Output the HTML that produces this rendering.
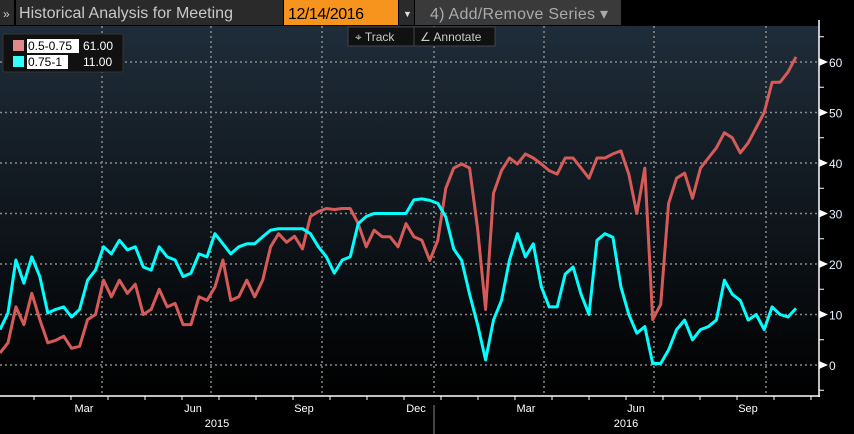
<!DOCTYPE html>
<html><head><meta charset="utf-8"><style>
body{margin:0;width:854px;height:434px;background:#000;overflow:hidden;font-family:"Liberation Sans",sans-serif;}
svg{display:block}
</style></head><body>
<svg width="854" height="434">
<defs><linearGradient id="bg" x1="0" y1="0" x2="0" y2="1"><stop offset="0" stop-color="#1f2d3a"/><stop offset="1" stop-color="#000"/></linearGradient></defs>
<rect x="0" y="26" width="819" height="370" fill="url(#bg)"/>
<g id="grid"></g>
<g id="series"></g>
<g id="axes"></g>
<!-- header -->
<rect x="0" y="0" width="14" height="25" fill="#2a2a2a"/>
<text x="3" y="18" fill="#ccc" font-size="12">»</text>
<rect x="16" y="0" width="267" height="25" fill="#2a2a2a"/>
<text x="19" y="18" fill="#c8c8c8" font-size="16" textLength="214">Historical Analysis for Meeting</text>
<rect x="284" y="0" width="114" height="25" fill="#f7941d"/>
<text x="288" y="19" fill="#000" font-size="16" textLength="76">12/14/2016</text>
<rect x="399" y="0" width="15" height="25" fill="#2a2a2a"/>
<text x="403" y="17" fill="#ddd" font-size="9">▼</text>
<rect x="415" y="0" width="206" height="25" fill="#3a3a3a"/>
<text x="430" y="19" fill="#aaa" font-size="16" textLength="178">4) Add/Remove Series ▾</text>
<!-- track/annotate -->
<rect x="348" y="27" width="147" height="19" fill="#111" stroke="#444"/>
<text x="355" y="41" fill="#ccc" font-size="12">⌖ Track</text>
<line x1="414" y1="27" x2="414" y2="46" stroke="#444"/>
<text x="420" y="41" fill="#ccc" font-size="12">∠ Annotate</text>
<!-- legend -->
<rect x="3" y="34" width="120" height="38" fill="#111" stroke="#333" rx="2"/>
<g>
<rect x="13" y="40" width="11" height="11" fill="#e08a8a"/>
<rect x="27" y="39" width="52" height="14" fill="#fff"/>
<text x="28" y="50" fill="#000" font-size="12">0.5-0.75</text>
<text x="83" y="50" fill="#fff" font-size="12">61.00</text></g>
<g>
<rect x="13" y="56" width="11" height="11" fill="#33ffff"/>
<rect x="27" y="55" width="41" height="14" fill="#fff"/>
<text x="28" y="66" fill="#000" font-size="12">0.75-1</text>
<text x="83" y="66" fill="#fff" font-size="12">11.00</text></g>
</svg>
<script>
const redValues=[2.4,4.4,11.5,8,14.2,9,4.4,4.9,5.7,3.3,3.7,9,10,16.8,13.5,16.8,14.2,16,10,11,15,11.5,12.2,8,8,13.5,12.8,15.4,20.8,12.8,13.5,16.8,13.5,16.8,23.4,26,24.3,25.5,23,29.4,30.4,31,30.8,31,31,28,23.4,26.7,25.4,25.4,23.4,28,25.4,24.7,20.7,24.7,35,39,39.8,39,27,11,34,38.5,41,39.8,41.8,41,39.8,38.5,37.8,41,41,39,37,41,41,41.8,42.4,37.8,30,39,9,12,32,37,38,33,39,41,43,46,45,42,44,47,50,56,56,58,61];
const cyanValues=[7,10.3,20.8,16.2,21.4,17.5,10.3,11,11.5,9.5,11,16.8,18.8,23.4,22,24.7,22.8,23.4,19.4,18.8,23.4,21.4,20.8,17.5,18.2,22,21.4,26,24,22,23.4,24,24,25.4,26.7,27,27,27,27,26,23.4,21.4,18.2,20.8,21.4,28,29.4,30,30,30,30,30,32.7,32.9,32.6,32,29.3,23,20.7,14,8,1,8.9,12.8,20.7,26,21.4,24,15.5,11.5,11.5,18,19.4,14,10,24.7,26,25.3,15.5,10,6.3,7.6,0.3,0.3,3,7,8.9,5,7,7.6,8.9,16.8,14,12.8,8.9,10,7,11.5,10,9.5,11.2];
const yTicks=[0,10,20,30,40,50,60];
const monthLabels=["Mar","Jun","Sep","Dec","Mar","Jun","Sep"];
const yearLabels=["2015","2016"];
const NS="http://www.w3.org/2000/svg";
const X0=0,X1=796,Y0=365,PX=5.05;
function xScale(i,n){return X0+i*(X1-X0)/(n-1);}
function yScale(v){return Y0-v*PX;}
function mk(t,a,p){const e=document.createElementNS(NS,t);for(const k in a)e.setAttribute(k,a[k]);p.appendChild(e);return e;}
const grid=document.getElementById('grid'),axes=document.getElementById('axes'),ser=document.getElementById('series');
yTicks.forEach(v=>{
 const l=mk('line',{x1:0,x2:819,y1:yScale(v),y2:yScale(v),stroke:'#8a8a8a','stroke-dasharray':'2,3','stroke-width':1.5},grid);
 
 
 const t=mk('text',{x:829,y:yScale(v)+5,fill:'#e8f0ff','font-size':12},axes);t.textContent=v;
 
 
 mk('path',{d:`M819 ${yScale(v)-4} L828 ${yScale(v)} L819 ${yScale(v)+4}Z`,fill:'#fff'},axes);
 mk('line',{x1:819,x2:824,y1:yScale(v+5),y2:yScale(v+5),stroke:'#fff'},axes);
});
mk('line',{x1:819,x2:824,y1:yScale(-5),y2:yScale(-5),stroke:'#fff'},axes);
const gx=[102,211,322,434,544,654,766];
gx.forEach((x,i)=>{
 const l=mk('line',{x1:x,x2:x,y1:26,y2:396,stroke:'#8a8a8a','stroke-dasharray':'2,3','stroke-width':1.5},grid);
 
 
 const t=mk('text',{x:x-18,y:412,fill:'#fff','font-size':11,'text-anchor':'middle'},axes);t.textContent=monthLabels[i];
 
 
});
for(let x=34;x<819;x+=37)mk('line',{x1:x,x2:x,y1:396,y2:400,stroke:'#fff'},axes);
mk('line',{x1:0,x2:820,y1:396,y2:396,stroke:'#fff','stroke-width':1.5},axes);
mk('line',{x1:819,x2:819,y1:20,y2:397,stroke:'#fff','stroke-width':1.5},axes);
mk('line',{x1:434,x2:434,y1:405,y2:434,stroke:'#888'},axes);
[[217,yearLabels[0]],[626,yearLabels[1]]].forEach(([x,s])=>{const t=mk('text',{x:x,y:427,fill:'#fff','font-size':11,'text-anchor':'middle'},axes);t.textContent=s;
 
 });
function line(vals,color,name){
 const d=vals.map((v,i)=>(i?'L':'M')+xScale(i,vals.length).toFixed(1)+' '+yScale(v).toFixed(1)).join(' ');
 const p=mk('path',{d:d,fill:'none',stroke:color,'stroke-width':3,'stroke-linejoin':'round'},ser);
 
 
}
line(redValues,'#d65a58','series-0.5-0.75');
line(cyanValues,'#00ffff','series-0.75-1');
</script>
</body></html>
